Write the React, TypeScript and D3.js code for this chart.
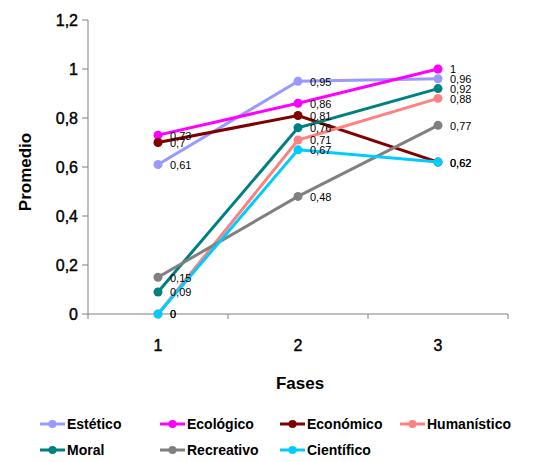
import React from "react";
import * as d3 from "d3";

const phases = ["1", "2", "3"];
const seriesNames = ["Estético", "Ecológico", "Económico", "Humanístico", "Moral", "Recreativo", "Científico"];
const estetico = [0.61, 0.95, 0.96];
const ecologico = [0.73, 0.86, 1];
const economico = [0.7, 0.81, 0.62];
const humanistico = [0, 0.71, 0.88];
const moral = [0.09, 0.76, 0.92];
const recreativo = [0.15, 0.48, 0.77];
const cientifico = [0, 0.67, 0.62];
const yTicks = [0, 0.2, 0.4, 0.6, 0.8, 1, 1.2];
const colors = ["#9999FF", "#FF00FF", "#800000", "#FF8080", "#008080", "#808080", "#00CCFF"];

const seriesValues = [estetico, ecologico, economico, humanistico, moral, recreativo, cientifico];

const fmt = (v: number) => String(v).replace(".", ",");

export default function App() {
  const W = 555, H = 462;
  const left = 88, right = 508, top = 20, bottom = 314;
  const x = d3.scaleBand<string>().domain(phases).range([left, right]);
  const y = d3.scaleLinear().domain([0, 1.2]).range([bottom, top]);
  const cx = (p: string) => (x(p) as number) + x.bandwidth() / 2;
  const line = d3.line<number>().x((_, i) => cx(phases[i])).y((d) => y(d));
  const font = "Arial, 'Liberation Sans', sans-serif";
  const legendCols = [40, 160, 280, 400];
  return (
    <svg width={W} height={H} style={{ position: "absolute", left: 0, top: 0, fontFamily: font }}>
      <rect width={W} height={H} fill="#fff" />
      {/* axes */}
      <line x1={left} x2={left} y1={top} y2={bottom} stroke="#808080" />
      <line x1={left} x2={right} y1={bottom} y2={bottom} stroke="#808080" />
      {yTicks.map((t) => (
        <g key={t}>
          <line x1={left - 6} x2={left} y1={y(t)} y2={y(t)} stroke="#808080" />
          <text x={left - 10} y={y(t)} dy="0.35em" textAnchor="end" fontSize={16} fill="#000" stroke="#000" strokeWidth={0.4}>{fmt(t)}</text>
        </g>
      ))}
      {[left, ...phases.map((p) => (x(p) as number) + x.bandwidth())].map((px, i) => (
        <line key={i} x1={px} x2={px} y1={bottom} y2={bottom + 5} stroke="#808080" />
      ))}
      {phases.map((p) => (
        <text key={p} x={cx(p)} y={bottom + 37} textAnchor="middle" fontSize={16} fill="#000" stroke="#000" strokeWidth={0.4}>{p}</text>
      ))}
      <text x={300} y={389} textAnchor="middle" fontSize={17} fontWeight="bold">Fases</text>
      <text transform={`translate(31,${(top + bottom) / 2 + 5}) rotate(-90)`} textAnchor="middle" fontSize={17} fontWeight="bold">Promedio</text>
      {/* series */}
      {seriesValues.map((vals, si) => (
        <g key={si}>
          <path d={line(vals) || ""} fill="none" stroke={colors[si]} strokeWidth={3} />
          {vals.map((v, i) => (
            <circle key={i} cx={cx(phases[i])} cy={y(v)} r={4.5} fill={colors[si]} />
          ))}
        </g>
      ))}
      {seriesValues.map((vals, si) => (
        <g key={"l" + si}>
          {vals.map((v, i) => (
            <text key={i} x={cx(phases[i]) + 12} y={y(v)} dy="0.4em" fontSize={11} fill="#000">{fmt(v)}</text>
          ))}
        </g>
      ))}
      {/* legend */}
      {seriesNames.map((n, i) => {
        const lx = legendCols[i % 4];
        const ly = i < 4 ? 424 : 450;
        return (
          <g key={n}>
            <line x1={lx} x2={lx + 25} y1={ly} y2={ly} stroke={colors[i]} strokeWidth={3} />
            <circle cx={lx + 12.5} cy={ly} r={4} fill={colors[i]} />
            <text x={lx + 27} y={ly} dy="0.36em" fontSize={14} fontWeight="bold" fill="#000">{n}</text>
          </g>
        );
      })}
    </svg>
  );
}
